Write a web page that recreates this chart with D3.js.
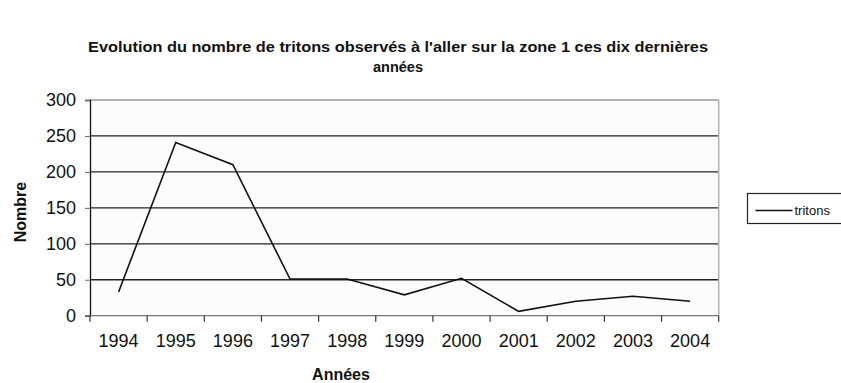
<!DOCTYPE html>
<html>
<head>
<meta charset="utf-8">
<script src="https://cdn.jsdelivr.net/npm/d3@7"></script>
<style>
  html, body { margin: 0; padding: 0; background: #fff; }
  svg { display: block; font-family: "Liberation Sans", Arial, Helvetica, sans-serif; }
</style>
</head>
<body>
<svg id="chart" width="841" height="383"></svg>
<script>
// Nombre de tritons observés à l'aller, zone 1
const years = ["1994", "1995", "1996", "1997", "1998", "1999", "2000", "2001", "2002", "2003", "2004"];
const tritons = [33, 241, 210, 51, 51, 29, 52, 6, 20, 27, 20];
const yTicks = [0, 50, 100, 150, 200, 250, 300];

const titleLines = ["Evolution du nombre de tritons observés à l'aller sur la zone 1 ces dix dernières", "années"];
const xTitle = "Années";
const yTitle = "Nombre";
const seriesName = "tritons";

const svg = d3.select("#chart");
const plot = { left: 90, right: 718.7, top: 100, bottom: 315.7 };

const x = d3.scaleBand().domain(years).range([plot.left, plot.right]).paddingInner(0).paddingOuter(0);
const y = d3.scaleLinear().domain([0, 300]).range([plot.bottom, plot.top]);

// plot area background
svg.append("rect")
  .attr("x", plot.left).attr("y", plot.top)
  .attr("width", plot.right - plot.left).attr("height", plot.bottom - plot.top)
  .attr("fill", "#fcfcfc");

// horizontal gridlines
svg.append("g")
  .selectAll("line")
  .data(yTicks.filter(d => d > 0 && d < 300))
  .join("line")
  .attr("x1", plot.left).attr("x2", plot.right)
  .attr("y1", d => y(d)).attr("y2", d => y(d))
  .attr("stroke", "#222").attr("stroke-width", 1.3);

// top and right frame
svg.append("line")
  .attr("x1", plot.left).attr("x2", plot.right)
  .attr("y1", y(300)).attr("y2", y(300))
  .attr("stroke", "#9a9a9a").attr("stroke-width", 1.5);
svg.append("line")
  .attr("x1", plot.right).attr("x2", plot.right)
  .attr("y1", plot.top).attr("y2", plot.bottom)
  .attr("stroke", "#b0b0b0").attr("stroke-width", 1.5);

// y axis
const yAxis = d3.axisLeft(y).tickValues(yTicks).tickSize(5).tickPadding(9);
const gy = svg.append("g").attr("transform", `translate(${plot.left},0)`).call(yAxis);
gy.select(".domain").attr("stroke", "#111").attr("stroke-width", 1.3);
gy.selectAll(".tick line").attr("stroke", "#666");
gy.selectAll(".tick text")
  .attr("font-family", "'Liberation Sans', Arial, sans-serif")
  .attr("font-size", 18).attr("fill", "#111");

// x axis: ticks on category boundaries, labels centred in each band
const gx = svg.append("g").attr("transform", `translate(0,${plot.bottom})`);
gx.append("line")
  .attr("x1", plot.left).attr("x2", plot.right)
  .attr("y1", 0).attr("y2", 0)
  .attr("stroke", "#777").attr("stroke-width", 1.3);
const bounds = years.map(d => x(d)).concat([x(years[years.length - 1]) + x.bandwidth()]);
gx.selectAll("line.tk")
  .data(bounds)
  .join("line").attr("class", "tk")
  .attr("x1", d => d).attr("x2", d => d)
  .attr("y1", 0).attr("y2", 6)
  .attr("stroke", "#333").attr("stroke-width", 1.2);
gx.selectAll("text")
  .data(years)
  .join("text")
  .attr("x", d => x(d) + x.bandwidth() / 2)
  .attr("y", 31.5)
  .attr("text-anchor", "middle")
  .attr("font-size", 18).attr("fill", "#111")
  .text(d => d);

// series line
const line = d3.line()
  .x((d, i) => x(years[i]) + x.bandwidth() / 2)
  .y(d => y(d));
svg.append("path")
  .datum(tritons)
  .attr("d", line)
  .attr("fill", "none")
  .attr("stroke", "#111")
  .attr("stroke-width", 1.6)
  .attr("stroke-linejoin", "miter");

// title
svg.append("text")
  .attr("x", 398).attr("y", 52)
  .attr("text-anchor", "middle")
  .attr("font-weight", "bold").attr("font-size", 14.5)
  .attr("textLength", 620).attr("lengthAdjust", "spacingAndGlyphs")
  .attr("fill", "#111")
  .text(titleLines[0]);
svg.append("text")
  .attr("x", 398).attr("y", 72)
  .attr("text-anchor", "middle")
  .attr("font-weight", "bold").attr("font-size", 14.5)
  .attr("fill", "#111")
  .text(titleLines[1]);

// axis titles
svg.append("text")
  .attr("x", 341).attr("y", 380)
  .attr("text-anchor", "middle")
  .attr("font-weight", "bold").attr("font-size", 16)
  .attr("fill", "#111")
  .text(xTitle);
svg.append("text")
  .attr("transform", "translate(26,212) rotate(-90)")
  .attr("text-anchor", "middle")
  .attr("font-weight", "bold").attr("font-size", 16)
  .attr("fill", "#111")
  .text(yTitle);

// legend
const lg = svg.append("g").attr("transform", "translate(747.5,193.5)");
lg.append("rect")
  .attr("width", 110).attr("height", 30)
  .attr("fill", "#fff").attr("stroke", "#222").attr("stroke-width", 1.2);
lg.append("line")
  .attr("x1", 8).attr("x2", 45)
  .attr("y1", 17).attr("y2", 17)
  .attr("stroke", "#111").attr("stroke-width", 1.4);
lg.append("text")
  .attr("x", 47).attr("y", 21)
  .attr("font-size", 13).attr("fill", "#111")
  .text(seriesName);
</script>
</body>
</html>
